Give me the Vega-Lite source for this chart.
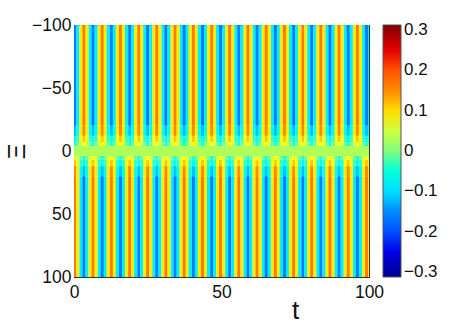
{"$schema":"https://vega.github.io/schema/vega-lite/v6.json","width":295,"height":252,"autosize":"none","padding":{"left":74,"top":25,"right":90,"bottom":47},"background":"white","config":{"view":{"stroke":"#333333","strokeWidth":1},"font":"Liberation Sans"},"resolve":{"axis":{"x":"independent","y":"independent"}},"layer":[{"data":{"values":[
{"t":0.3,"y":-100,"v":-0.16},{"t":1.3,"y":-100,"v":-0.09},{"t":2.4,"y":-100,"v":0.09},{"t":3.4,"y":-100,"v":0.16},{"t":4.4,"y":-100,"v":0.09},{"t":5.5,"y":-100,"v":-0.09},
{"t":6.5,"y":-100,"v":-0.16},{"t":7.5,"y":-100,"v":-0.09},{"t":8.6,"y":-100,"v":0.09},{"t":9.6,"y":-100,"v":0.16},{"t":10.6,"y":-100,"v":0.09},{"t":11.6,"y":-100,"v":-0.09},
{"t":12.7,"y":-100,"v":-0.16},{"t":13.7,"y":-100,"v":-0.09},{"t":14.7,"y":-100,"v":0.09},{"t":15.8,"y":-100,"v":0.16},{"t":16.8,"y":-100,"v":0.09},{"t":17.8,"y":-100,"v":-0.09},
{"t":18.9,"y":-100,"v":-0.16},{"t":19.9,"y":-100,"v":-0.09},{"t":20.9,"y":-100,"v":0.09},{"t":22,"y":-100,"v":0.16},{"t":23,"y":-100,"v":0.09},{"t":24,"y":-100,"v":-0.09},
{"t":25,"y":-100,"v":-0.16},{"t":26.1,"y":-100,"v":-0.09},{"t":27.1,"y":-100,"v":0.09},{"t":28.1,"y":-100,"v":0.16},{"t":29.1,"y":-100,"v":0.09},{"t":30.2,"y":-100,"v":-0.09},
{"t":31.2,"y":-100,"v":-0.16},{"t":32.2,"y":-100,"v":-0.09},{"t":33.3,"y":-100,"v":0.09},{"t":34.3,"y":-100,"v":0.16},{"t":35.3,"y":-100,"v":0.09},{"t":36.4,"y":-100,"v":-0.09},
{"t":37.4,"y":-100,"v":-0.16},{"t":38.4,"y":-100,"v":-0.09},{"t":39.4,"y":-100,"v":0.09},{"t":40.5,"y":-100,"v":0.16},{"t":41.5,"y":-100,"v":0.09},{"t":42.5,"y":-100,"v":-0.09},
{"t":43.6,"y":-100,"v":-0.16},{"t":44.6,"y":-100,"v":-0.09},{"t":45.6,"y":-100,"v":0.09},{"t":46.7,"y":-100,"v":0.16},{"t":47.7,"y":-100,"v":0.09},{"t":48.7,"y":-100,"v":-0.09},
{"t":49.7,"y":-100,"v":-0.16},{"t":50.8,"y":-100,"v":-0.09},{"t":51.8,"y":-100,"v":0.09},{"t":52.8,"y":-100,"v":0.16},{"t":53.9,"y":-100,"v":0.09},{"t":54.9,"y":-100,"v":-0.09},
{"t":55.9,"y":-100,"v":-0.16},{"t":57,"y":-100,"v":-0.09},{"t":58,"y":-100,"v":0.09},{"t":59,"y":-100,"v":0.16},{"t":60,"y":-100,"v":0.09},{"t":61.1,"y":-100,"v":-0.09},
{"t":62.1,"y":-100,"v":-0.16},{"t":63.1,"y":-100,"v":-0.09},{"t":64.2,"y":-100,"v":0.09},{"t":65.2,"y":-100,"v":0.16},{"t":66.2,"y":-100,"v":0.09},{"t":67.3,"y":-100,"v":-0.09},
{"t":68.3,"y":-100,"v":-0.16},{"t":69.3,"y":-100,"v":-0.09},{"t":70.3,"y":-100,"v":0.09},{"t":71.4,"y":-100,"v":0.16},{"t":72.4,"y":-100,"v":0.09},{"t":73.4,"y":-100,"v":-0.09},
{"t":74.5,"y":-100,"v":-0.16},{"t":75.5,"y":-100,"v":-0.09},{"t":76.5,"y":-100,"v":0.09},{"t":77.6,"y":-100,"v":0.16},{"t":78.6,"y":-100,"v":0.09},{"t":79.6,"y":-100,"v":-0.09},
{"t":80.6,"y":-100,"v":-0.16},{"t":81.7,"y":-100,"v":-0.09},{"t":82.7,"y":-100,"v":0.09},{"t":83.7,"y":-100,"v":0.16},{"t":84.8,"y":-100,"v":0.09},{"t":85.8,"y":-100,"v":-0.09},
{"t":86.8,"y":-100,"v":-0.16},{"t":87.9,"y":-100,"v":-0.09},{"t":88.9,"y":-100,"v":0.09},{"t":89.9,"y":-100,"v":0.16},{"t":90.9,"y":-100,"v":0.09},{"t":92,"y":-100,"v":-0.09},
{"t":93,"y":-100,"v":-0.16},{"t":94,"y":-100,"v":-0.09},{"t":95.1,"y":-100,"v":0.09},{"t":96.1,"y":-100,"v":0.16},{"t":97.1,"y":-100,"v":0.09},{"t":98.2,"y":-100,"v":-0.09},
{"t":99.2,"y":-100,"v":-0.16},{"t":100.2,"y":-100,"v":-0.09},
{"t":0.3,"y":-20,"v":-0.12},{"t":1.3,"y":-20,"v":-0.06},{"t":2.4,"y":-20,"v":0.09},{"t":3.4,"y":-20,"v":0.15},{"t":4.4,"y":-20,"v":0.09},{"t":5.5,"y":-20,"v":-0.06},
{"t":6.5,"y":-20,"v":-0.12},{"t":7.5,"y":-20,"v":-0.06},{"t":8.6,"y":-20,"v":0.09},{"t":9.6,"y":-20,"v":0.15},{"t":10.6,"y":-20,"v":0.09},{"t":11.6,"y":-20,"v":-0.06},
{"t":12.7,"y":-20,"v":-0.12},{"t":13.7,"y":-20,"v":-0.06},{"t":14.7,"y":-20,"v":0.09},{"t":15.8,"y":-20,"v":0.15},{"t":16.8,"y":-20,"v":0.09},{"t":17.8,"y":-20,"v":-0.06},
{"t":18.9,"y":-20,"v":-0.12},{"t":19.9,"y":-20,"v":-0.06},{"t":20.9,"y":-20,"v":0.09},{"t":22,"y":-20,"v":0.15},{"t":23,"y":-20,"v":0.09},{"t":24,"y":-20,"v":-0.06},
{"t":25,"y":-20,"v":-0.12},{"t":26.1,"y":-20,"v":-0.06},{"t":27.1,"y":-20,"v":0.09},{"t":28.1,"y":-20,"v":0.15},{"t":29.1,"y":-20,"v":0.09},{"t":30.2,"y":-20,"v":-0.06},
{"t":31.2,"y":-20,"v":-0.12},{"t":32.2,"y":-20,"v":-0.06},{"t":33.3,"y":-20,"v":0.09},{"t":34.3,"y":-20,"v":0.15},{"t":35.3,"y":-20,"v":0.09},{"t":36.4,"y":-20,"v":-0.06},
{"t":37.4,"y":-20,"v":-0.12},{"t":38.4,"y":-20,"v":-0.06},{"t":39.4,"y":-20,"v":0.09},{"t":40.5,"y":-20,"v":0.15},{"t":41.5,"y":-20,"v":0.09},{"t":42.5,"y":-20,"v":-0.06},
{"t":43.6,"y":-20,"v":-0.12},{"t":44.6,"y":-20,"v":-0.06},{"t":45.6,"y":-20,"v":0.09},{"t":46.7,"y":-20,"v":0.15},{"t":47.7,"y":-20,"v":0.09},{"t":48.7,"y":-20,"v":-0.06},
{"t":49.7,"y":-20,"v":-0.12},{"t":50.8,"y":-20,"v":-0.06},{"t":51.8,"y":-20,"v":0.09},{"t":52.8,"y":-20,"v":0.15},{"t":53.9,"y":-20,"v":0.09},{"t":54.9,"y":-20,"v":-0.06},
{"t":55.9,"y":-20,"v":-0.12},{"t":57,"y":-20,"v":-0.06},{"t":58,"y":-20,"v":0.09},{"t":59,"y":-20,"v":0.15},{"t":60,"y":-20,"v":0.09},{"t":61.1,"y":-20,"v":-0.06},
{"t":62.1,"y":-20,"v":-0.12},{"t":63.1,"y":-20,"v":-0.06},{"t":64.2,"y":-20,"v":0.09},{"t":65.2,"y":-20,"v":0.15},{"t":66.2,"y":-20,"v":0.09},{"t":67.3,"y":-20,"v":-0.06},
{"t":68.3,"y":-20,"v":-0.12},{"t":69.3,"y":-20,"v":-0.06},{"t":70.3,"y":-20,"v":0.09},{"t":71.4,"y":-20,"v":0.15},{"t":72.4,"y":-20,"v":0.09},{"t":73.4,"y":-20,"v":-0.06},
{"t":74.5,"y":-20,"v":-0.12},{"t":75.5,"y":-20,"v":-0.06},{"t":76.5,"y":-20,"v":0.09},{"t":77.6,"y":-20,"v":0.15},{"t":78.6,"y":-20,"v":0.09},{"t":79.6,"y":-20,"v":-0.06},
{"t":80.6,"y":-20,"v":-0.12},{"t":81.7,"y":-20,"v":-0.06},{"t":82.7,"y":-20,"v":0.09},{"t":83.7,"y":-20,"v":0.15},{"t":84.8,"y":-20,"v":0.09},{"t":85.8,"y":-20,"v":-0.06},
{"t":86.8,"y":-20,"v":-0.12},{"t":87.9,"y":-20,"v":-0.06},{"t":88.9,"y":-20,"v":0.09},{"t":89.9,"y":-20,"v":0.15},{"t":90.9,"y":-20,"v":0.09},{"t":92,"y":-20,"v":-0.06},
{"t":93,"y":-20,"v":-0.12},{"t":94,"y":-20,"v":-0.06},{"t":95.1,"y":-20,"v":0.09},{"t":96.1,"y":-20,"v":0.15},{"t":97.1,"y":-20,"v":0.09},{"t":98.2,"y":-20,"v":-0.06},
{"t":99.2,"y":-20,"v":-0.12},{"t":100.2,"y":-20,"v":-0.06},
{"t":0.3,"y":-12,"v":-0.08},{"t":1.3,"y":-12,"v":-0.03},{"t":2.4,"y":-12,"v":0.07},{"t":3.4,"y":-12,"v":0.11},{"t":4.4,"y":-12,"v":0.07},{"t":5.5,"y":-12,"v":-0.03},
{"t":6.5,"y":-12,"v":-0.08},{"t":7.5,"y":-12,"v":-0.03},{"t":8.6,"y":-12,"v":0.07},{"t":9.6,"y":-12,"v":0.11},{"t":10.6,"y":-12,"v":0.07},{"t":11.6,"y":-12,"v":-0.03},
{"t":12.7,"y":-12,"v":-0.08},{"t":13.7,"y":-12,"v":-0.03},{"t":14.7,"y":-12,"v":0.07},{"t":15.8,"y":-12,"v":0.11},{"t":16.8,"y":-12,"v":0.07},{"t":17.8,"y":-12,"v":-0.03},
{"t":18.9,"y":-12,"v":-0.08},{"t":19.9,"y":-12,"v":-0.03},{"t":20.9,"y":-12,"v":0.07},{"t":22,"y":-12,"v":0.11},{"t":23,"y":-12,"v":0.07},{"t":24,"y":-12,"v":-0.03},
{"t":25,"y":-12,"v":-0.08},{"t":26.1,"y":-12,"v":-0.03},{"t":27.1,"y":-12,"v":0.07},{"t":28.1,"y":-12,"v":0.11},{"t":29.1,"y":-12,"v":0.07},{"t":30.2,"y":-12,"v":-0.03},
{"t":31.2,"y":-12,"v":-0.08},{"t":32.2,"y":-12,"v":-0.03},{"t":33.3,"y":-12,"v":0.07},{"t":34.3,"y":-12,"v":0.11},{"t":35.3,"y":-12,"v":0.07},{"t":36.4,"y":-12,"v":-0.03},
{"t":37.4,"y":-12,"v":-0.08},{"t":38.4,"y":-12,"v":-0.03},{"t":39.4,"y":-12,"v":0.07},{"t":40.5,"y":-12,"v":0.11},{"t":41.5,"y":-12,"v":0.07},{"t":42.5,"y":-12,"v":-0.03},
{"t":43.6,"y":-12,"v":-0.08},{"t":44.6,"y":-12,"v":-0.03},{"t":45.6,"y":-12,"v":0.07},{"t":46.7,"y":-12,"v":0.11},{"t":47.7,"y":-12,"v":0.07},{"t":48.7,"y":-12,"v":-0.03},
{"t":49.7,"y":-12,"v":-0.08},{"t":50.8,"y":-12,"v":-0.03},{"t":51.8,"y":-12,"v":0.07},{"t":52.8,"y":-12,"v":0.11},{"t":53.9,"y":-12,"v":0.07},{"t":54.9,"y":-12,"v":-0.03},
{"t":55.9,"y":-12,"v":-0.08},{"t":57,"y":-12,"v":-0.03},{"t":58,"y":-12,"v":0.07},{"t":59,"y":-12,"v":0.11},{"t":60,"y":-12,"v":0.07},{"t":61.1,"y":-12,"v":-0.03},
{"t":62.1,"y":-12,"v":-0.08},{"t":63.1,"y":-12,"v":-0.03},{"t":64.2,"y":-12,"v":0.07},{"t":65.2,"y":-12,"v":0.11},{"t":66.2,"y":-12,"v":0.07},{"t":67.3,"y":-12,"v":-0.03},
{"t":68.3,"y":-12,"v":-0.08},{"t":69.3,"y":-12,"v":-0.03},{"t":70.3,"y":-12,"v":0.07},{"t":71.4,"y":-12,"v":0.11},{"t":72.4,"y":-12,"v":0.07},{"t":73.4,"y":-12,"v":-0.03},
{"t":74.5,"y":-12,"v":-0.08},{"t":75.5,"y":-12,"v":-0.03},{"t":76.5,"y":-12,"v":0.07},{"t":77.6,"y":-12,"v":0.11},{"t":78.6,"y":-12,"v":0.07},{"t":79.6,"y":-12,"v":-0.03},
{"t":80.6,"y":-12,"v":-0.08},{"t":81.7,"y":-12,"v":-0.03},{"t":82.7,"y":-12,"v":0.07},{"t":83.7,"y":-12,"v":0.11},{"t":84.8,"y":-12,"v":0.07},{"t":85.8,"y":-12,"v":-0.03},
{"t":86.8,"y":-12,"v":-0.08},{"t":87.9,"y":-12,"v":-0.03},{"t":88.9,"y":-12,"v":0.07},{"t":89.9,"y":-12,"v":0.11},{"t":90.9,"y":-12,"v":0.07},{"t":92,"y":-12,"v":-0.03},
{"t":93,"y":-12,"v":-0.08},{"t":94,"y":-12,"v":-0.03},{"t":95.1,"y":-12,"v":0.07},{"t":96.1,"y":-12,"v":0.11},{"t":97.1,"y":-12,"v":0.07},{"t":98.2,"y":-12,"v":-0.03},
{"t":99.2,"y":-12,"v":-0.08},{"t":100.2,"y":-12,"v":-0.03},
{"t":0.3,"y":-7,"v":-0.04},{"t":1.3,"y":-7,"v":-0.01},{"t":2.4,"y":-7,"v":0.05},{"t":3.4,"y":-7,"v":0.08},{"t":4.4,"y":-7,"v":0.05},{"t":5.5,"y":-7,"v":-0.01},
{"t":6.5,"y":-7,"v":-0.04},{"t":7.5,"y":-7,"v":-0.01},{"t":8.6,"y":-7,"v":0.05},{"t":9.6,"y":-7,"v":0.08},{"t":10.6,"y":-7,"v":0.05},{"t":11.6,"y":-7,"v":-0.01},
{"t":12.7,"y":-7,"v":-0.04},{"t":13.7,"y":-7,"v":-0.01},{"t":14.7,"y":-7,"v":0.05},{"t":15.8,"y":-7,"v":0.08},{"t":16.8,"y":-7,"v":0.05},{"t":17.8,"y":-7,"v":-0.01},
{"t":18.9,"y":-7,"v":-0.04},{"t":19.9,"y":-7,"v":-0.01},{"t":20.9,"y":-7,"v":0.05},{"t":22,"y":-7,"v":0.08},{"t":23,"y":-7,"v":0.05},{"t":24,"y":-7,"v":-0.01},
{"t":25,"y":-7,"v":-0.04},{"t":26.1,"y":-7,"v":-0.01},{"t":27.1,"y":-7,"v":0.05},{"t":28.1,"y":-7,"v":0.08},{"t":29.1,"y":-7,"v":0.05},{"t":30.2,"y":-7,"v":-0.01},
{"t":31.2,"y":-7,"v":-0.04},{"t":32.2,"y":-7,"v":-0.01},{"t":33.3,"y":-7,"v":0.05},{"t":34.3,"y":-7,"v":0.08},{"t":35.3,"y":-7,"v":0.05},{"t":36.4,"y":-7,"v":-0.01},
{"t":37.4,"y":-7,"v":-0.04},{"t":38.4,"y":-7,"v":-0.01},{"t":39.4,"y":-7,"v":0.05},{"t":40.5,"y":-7,"v":0.08},{"t":41.5,"y":-7,"v":0.05},{"t":42.5,"y":-7,"v":-0.01},
{"t":43.6,"y":-7,"v":-0.04},{"t":44.6,"y":-7,"v":-0.01},{"t":45.6,"y":-7,"v":0.05},{"t":46.7,"y":-7,"v":0.08},{"t":47.7,"y":-7,"v":0.05},{"t":48.7,"y":-7,"v":-0.01},
{"t":49.7,"y":-7,"v":-0.04},{"t":50.8,"y":-7,"v":-0.01},{"t":51.8,"y":-7,"v":0.05},{"t":52.8,"y":-7,"v":0.08},{"t":53.9,"y":-7,"v":0.05},{"t":54.9,"y":-7,"v":-0.01},
{"t":55.9,"y":-7,"v":-0.04},{"t":57,"y":-7,"v":-0.01},{"t":58,"y":-7,"v":0.05},{"t":59,"y":-7,"v":0.08},{"t":60,"y":-7,"v":0.05},{"t":61.1,"y":-7,"v":-0.01},
{"t":62.1,"y":-7,"v":-0.04},{"t":63.1,"y":-7,"v":-0.01},{"t":64.2,"y":-7,"v":0.05},{"t":65.2,"y":-7,"v":0.08},{"t":66.2,"y":-7,"v":0.05},{"t":67.3,"y":-7,"v":-0.01},
{"t":68.3,"y":-7,"v":-0.04},{"t":69.3,"y":-7,"v":-0.01},{"t":70.3,"y":-7,"v":0.05},{"t":71.4,"y":-7,"v":0.08},{"t":72.4,"y":-7,"v":0.05},{"t":73.4,"y":-7,"v":-0.01},
{"t":74.5,"y":-7,"v":-0.04},{"t":75.5,"y":-7,"v":-0.01},{"t":76.5,"y":-7,"v":0.05},{"t":77.6,"y":-7,"v":0.08},{"t":78.6,"y":-7,"v":0.05},{"t":79.6,"y":-7,"v":-0.01},
{"t":80.6,"y":-7,"v":-0.04},{"t":81.7,"y":-7,"v":-0.01},{"t":82.7,"y":-7,"v":0.05},{"t":83.7,"y":-7,"v":0.08},{"t":84.8,"y":-7,"v":0.05},{"t":85.8,"y":-7,"v":-0.01},
{"t":86.8,"y":-7,"v":-0.04},{"t":87.9,"y":-7,"v":-0.01},{"t":88.9,"y":-7,"v":0.05},{"t":89.9,"y":-7,"v":0.08},{"t":90.9,"y":-7,"v":0.05},{"t":92,"y":-7,"v":-0.01},
{"t":93,"y":-7,"v":-0.04},{"t":94,"y":-7,"v":-0.01},{"t":95.1,"y":-7,"v":0.05},{"t":96.1,"y":-7,"v":0.08},{"t":97.1,"y":-7,"v":0.05},{"t":98.2,"y":-7,"v":-0.01},
{"t":99.2,"y":-7,"v":-0.04},{"t":100.2,"y":-7,"v":-0.01},
{"t":0.3,"y":4,"v":0.08},{"t":1.3,"y":4,"v":0.05},{"t":2.4,"y":4,"v":-0.01},{"t":3.4,"y":4,"v":-0.04},{"t":4.4,"y":4,"v":-0.01},{"t":5.5,"y":4,"v":0.05},
{"t":6.5,"y":4,"v":0.08},{"t":7.5,"y":4,"v":0.05},{"t":8.6,"y":4,"v":-0.01},{"t":9.6,"y":4,"v":-0.04},{"t":10.6,"y":4,"v":-0.01},{"t":11.6,"y":4,"v":0.05},
{"t":12.7,"y":4,"v":0.08},{"t":13.7,"y":4,"v":0.05},{"t":14.7,"y":4,"v":-0.01},{"t":15.8,"y":4,"v":-0.04},{"t":16.8,"y":4,"v":-0.01},{"t":17.8,"y":4,"v":0.05},
{"t":18.9,"y":4,"v":0.08},{"t":19.9,"y":4,"v":0.05},{"t":20.9,"y":4,"v":-0.01},{"t":22,"y":4,"v":-0.04},{"t":23,"y":4,"v":-0.01},{"t":24,"y":4,"v":0.05},
{"t":25,"y":4,"v":0.08},{"t":26.1,"y":4,"v":0.05},{"t":27.1,"y":4,"v":-0.01},{"t":28.1,"y":4,"v":-0.04},{"t":29.1,"y":4,"v":-0.01},{"t":30.2,"y":4,"v":0.05},
{"t":31.2,"y":4,"v":0.08},{"t":32.2,"y":4,"v":0.05},{"t":33.3,"y":4,"v":-0.01},{"t":34.3,"y":4,"v":-0.04},{"t":35.3,"y":4,"v":-0.01},{"t":36.4,"y":4,"v":0.05},
{"t":37.4,"y":4,"v":0.08},{"t":38.4,"y":4,"v":0.05},{"t":39.4,"y":4,"v":-0.01},{"t":40.5,"y":4,"v":-0.04},{"t":41.5,"y":4,"v":-0.01},{"t":42.5,"y":4,"v":0.05},
{"t":43.6,"y":4,"v":0.08},{"t":44.6,"y":4,"v":0.05},{"t":45.6,"y":4,"v":-0.01},{"t":46.7,"y":4,"v":-0.04},{"t":47.7,"y":4,"v":-0.01},{"t":48.7,"y":4,"v":0.05},
{"t":49.7,"y":4,"v":0.08},{"t":50.8,"y":4,"v":0.05},{"t":51.8,"y":4,"v":-0.01},{"t":52.8,"y":4,"v":-0.04},{"t":53.9,"y":4,"v":-0.01},{"t":54.9,"y":4,"v":0.05},
{"t":55.9,"y":4,"v":0.08},{"t":57,"y":4,"v":0.05},{"t":58,"y":4,"v":-0.01},{"t":59,"y":4,"v":-0.04},{"t":60,"y":4,"v":-0.01},{"t":61.1,"y":4,"v":0.05},
{"t":62.1,"y":4,"v":0.08},{"t":63.1,"y":4,"v":0.05},{"t":64.2,"y":4,"v":-0.01},{"t":65.2,"y":4,"v":-0.04},{"t":66.2,"y":4,"v":-0.01},{"t":67.3,"y":4,"v":0.05},
{"t":68.3,"y":4,"v":0.08},{"t":69.3,"y":4,"v":0.05},{"t":70.3,"y":4,"v":-0.01},{"t":71.4,"y":4,"v":-0.04},{"t":72.4,"y":4,"v":-0.01},{"t":73.4,"y":4,"v":0.05},
{"t":74.5,"y":4,"v":0.08},{"t":75.5,"y":4,"v":0.05},{"t":76.5,"y":4,"v":-0.01},{"t":77.6,"y":4,"v":-0.04},{"t":78.6,"y":4,"v":-0.01},{"t":79.6,"y":4,"v":0.05},
{"t":80.6,"y":4,"v":0.08},{"t":81.7,"y":4,"v":0.05},{"t":82.7,"y":4,"v":-0.01},{"t":83.7,"y":4,"v":-0.04},{"t":84.8,"y":4,"v":-0.01},{"t":85.8,"y":4,"v":0.05},
{"t":86.8,"y":4,"v":0.08},{"t":87.9,"y":4,"v":0.05},{"t":88.9,"y":4,"v":-0.01},{"t":89.9,"y":4,"v":-0.04},{"t":90.9,"y":4,"v":-0.01},{"t":92,"y":4,"v":0.05},
{"t":93,"y":4,"v":0.08},{"t":94,"y":4,"v":0.05},{"t":95.1,"y":4,"v":-0.01},{"t":96.1,"y":4,"v":-0.04},{"t":97.1,"y":4,"v":-0.01},{"t":98.2,"y":4,"v":0.05},
{"t":99.2,"y":4,"v":0.08},{"t":100.2,"y":4,"v":0.05},
{"t":0.3,"y":7,"v":0.11},{"t":1.3,"y":7,"v":0.07},{"t":2.4,"y":7,"v":-0.03},{"t":3.4,"y":7,"v":-0.08},{"t":4.4,"y":7,"v":-0.03},{"t":5.5,"y":7,"v":0.07},
{"t":6.5,"y":7,"v":0.11},{"t":7.5,"y":7,"v":0.07},{"t":8.6,"y":7,"v":-0.03},{"t":9.6,"y":7,"v":-0.08},{"t":10.6,"y":7,"v":-0.03},{"t":11.6,"y":7,"v":0.07},
{"t":12.7,"y":7,"v":0.11},{"t":13.7,"y":7,"v":0.07},{"t":14.7,"y":7,"v":-0.03},{"t":15.8,"y":7,"v":-0.08},{"t":16.8,"y":7,"v":-0.03},{"t":17.8,"y":7,"v":0.07},
{"t":18.9,"y":7,"v":0.11},{"t":19.9,"y":7,"v":0.07},{"t":20.9,"y":7,"v":-0.03},{"t":22,"y":7,"v":-0.08},{"t":23,"y":7,"v":-0.03},{"t":24,"y":7,"v":0.07},
{"t":25,"y":7,"v":0.11},{"t":26.1,"y":7,"v":0.07},{"t":27.1,"y":7,"v":-0.03},{"t":28.1,"y":7,"v":-0.08},{"t":29.1,"y":7,"v":-0.03},{"t":30.2,"y":7,"v":0.07},
{"t":31.2,"y":7,"v":0.11},{"t":32.2,"y":7,"v":0.07},{"t":33.3,"y":7,"v":-0.03},{"t":34.3,"y":7,"v":-0.08},{"t":35.3,"y":7,"v":-0.03},{"t":36.4,"y":7,"v":0.07},
{"t":37.4,"y":7,"v":0.11},{"t":38.4,"y":7,"v":0.07},{"t":39.4,"y":7,"v":-0.03},{"t":40.5,"y":7,"v":-0.08},{"t":41.5,"y":7,"v":-0.03},{"t":42.5,"y":7,"v":0.07},
{"t":43.6,"y":7,"v":0.11},{"t":44.6,"y":7,"v":0.07},{"t":45.6,"y":7,"v":-0.03},{"t":46.7,"y":7,"v":-0.08},{"t":47.7,"y":7,"v":-0.03},{"t":48.7,"y":7,"v":0.07},
{"t":49.7,"y":7,"v":0.11},{"t":50.8,"y":7,"v":0.07},{"t":51.8,"y":7,"v":-0.03},{"t":52.8,"y":7,"v":-0.08},{"t":53.9,"y":7,"v":-0.03},{"t":54.9,"y":7,"v":0.07},
{"t":55.9,"y":7,"v":0.11},{"t":57,"y":7,"v":0.07},{"t":58,"y":7,"v":-0.03},{"t":59,"y":7,"v":-0.08},{"t":60,"y":7,"v":-0.03},{"t":61.1,"y":7,"v":0.07},
{"t":62.1,"y":7,"v":0.11},{"t":63.1,"y":7,"v":0.07},{"t":64.2,"y":7,"v":-0.03},{"t":65.2,"y":7,"v":-0.08},{"t":66.2,"y":7,"v":-0.03},{"t":67.3,"y":7,"v":0.07},
{"t":68.3,"y":7,"v":0.11},{"t":69.3,"y":7,"v":0.07},{"t":70.3,"y":7,"v":-0.03},{"t":71.4,"y":7,"v":-0.08},{"t":72.4,"y":7,"v":-0.03},{"t":73.4,"y":7,"v":0.07},
{"t":74.5,"y":7,"v":0.11},{"t":75.5,"y":7,"v":0.07},{"t":76.5,"y":7,"v":-0.03},{"t":77.6,"y":7,"v":-0.08},{"t":78.6,"y":7,"v":-0.03},{"t":79.6,"y":7,"v":0.07},
{"t":80.6,"y":7,"v":0.11},{"t":81.7,"y":7,"v":0.07},{"t":82.7,"y":7,"v":-0.03},{"t":83.7,"y":7,"v":-0.08},{"t":84.8,"y":7,"v":-0.03},{"t":85.8,"y":7,"v":0.07},
{"t":86.8,"y":7,"v":0.11},{"t":87.9,"y":7,"v":0.07},{"t":88.9,"y":7,"v":-0.03},{"t":89.9,"y":7,"v":-0.08},{"t":90.9,"y":7,"v":-0.03},{"t":92,"y":7,"v":0.07},
{"t":93,"y":7,"v":0.11},{"t":94,"y":7,"v":0.07},{"t":95.1,"y":7,"v":-0.03},{"t":96.1,"y":7,"v":-0.08},{"t":97.1,"y":7,"v":-0.03},{"t":98.2,"y":7,"v":0.07},
{"t":99.2,"y":7,"v":0.11},{"t":100.2,"y":7,"v":0.07},
{"t":0.3,"y":12,"v":0.15},{"t":1.3,"y":12,"v":0.09},{"t":2.4,"y":12,"v":-0.06},{"t":3.4,"y":12,"v":-0.12},{"t":4.4,"y":12,"v":-0.06},{"t":5.5,"y":12,"v":0.09},
{"t":6.5,"y":12,"v":0.15},{"t":7.5,"y":12,"v":0.09},{"t":8.6,"y":12,"v":-0.06},{"t":9.6,"y":12,"v":-0.12},{"t":10.6,"y":12,"v":-0.06},{"t":11.6,"y":12,"v":0.09},
{"t":12.7,"y":12,"v":0.15},{"t":13.7,"y":12,"v":0.09},{"t":14.7,"y":12,"v":-0.06},{"t":15.8,"y":12,"v":-0.12},{"t":16.8,"y":12,"v":-0.06},{"t":17.8,"y":12,"v":0.09},
{"t":18.9,"y":12,"v":0.15},{"t":19.9,"y":12,"v":0.09},{"t":20.9,"y":12,"v":-0.06},{"t":22,"y":12,"v":-0.12},{"t":23,"y":12,"v":-0.06},{"t":24,"y":12,"v":0.09},
{"t":25,"y":12,"v":0.15},{"t":26.1,"y":12,"v":0.09},{"t":27.1,"y":12,"v":-0.06},{"t":28.1,"y":12,"v":-0.12},{"t":29.1,"y":12,"v":-0.06},{"t":30.2,"y":12,"v":0.09},
{"t":31.2,"y":12,"v":0.15},{"t":32.2,"y":12,"v":0.09},{"t":33.3,"y":12,"v":-0.06},{"t":34.3,"y":12,"v":-0.12},{"t":35.3,"y":12,"v":-0.06},{"t":36.4,"y":12,"v":0.09},
{"t":37.4,"y":12,"v":0.15},{"t":38.4,"y":12,"v":0.09},{"t":39.4,"y":12,"v":-0.06},{"t":40.5,"y":12,"v":-0.12},{"t":41.5,"y":12,"v":-0.06},{"t":42.5,"y":12,"v":0.09},
{"t":43.6,"y":12,"v":0.15},{"t":44.6,"y":12,"v":0.09},{"t":45.6,"y":12,"v":-0.06},{"t":46.7,"y":12,"v":-0.12},{"t":47.7,"y":12,"v":-0.06},{"t":48.7,"y":12,"v":0.09},
{"t":49.7,"y":12,"v":0.15},{"t":50.8,"y":12,"v":0.09},{"t":51.8,"y":12,"v":-0.06},{"t":52.8,"y":12,"v":-0.12},{"t":53.9,"y":12,"v":-0.06},{"t":54.9,"y":12,"v":0.09},
{"t":55.9,"y":12,"v":0.15},{"t":57,"y":12,"v":0.09},{"t":58,"y":12,"v":-0.06},{"t":59,"y":12,"v":-0.12},{"t":60,"y":12,"v":-0.06},{"t":61.1,"y":12,"v":0.09},
{"t":62.1,"y":12,"v":0.15},{"t":63.1,"y":12,"v":0.09},{"t":64.2,"y":12,"v":-0.06},{"t":65.2,"y":12,"v":-0.12},{"t":66.2,"y":12,"v":-0.06},{"t":67.3,"y":12,"v":0.09},
{"t":68.3,"y":12,"v":0.15},{"t":69.3,"y":12,"v":0.09},{"t":70.3,"y":12,"v":-0.06},{"t":71.4,"y":12,"v":-0.12},{"t":72.4,"y":12,"v":-0.06},{"t":73.4,"y":12,"v":0.09},
{"t":74.5,"y":12,"v":0.15},{"t":75.5,"y":12,"v":0.09},{"t":76.5,"y":12,"v":-0.06},{"t":77.6,"y":12,"v":-0.12},{"t":78.6,"y":12,"v":-0.06},{"t":79.6,"y":12,"v":0.09},
{"t":80.6,"y":12,"v":0.15},{"t":81.7,"y":12,"v":0.09},{"t":82.7,"y":12,"v":-0.06},{"t":83.7,"y":12,"v":-0.12},{"t":84.8,"y":12,"v":-0.06},{"t":85.8,"y":12,"v":0.09},
{"t":86.8,"y":12,"v":0.15},{"t":87.9,"y":12,"v":0.09},{"t":88.9,"y":12,"v":-0.06},{"t":89.9,"y":12,"v":-0.12},{"t":90.9,"y":12,"v":-0.06},{"t":92,"y":12,"v":0.09},
{"t":93,"y":12,"v":0.15},{"t":94,"y":12,"v":0.09},{"t":95.1,"y":12,"v":-0.06},{"t":96.1,"y":12,"v":-0.12},{"t":97.1,"y":12,"v":-0.06},{"t":98.2,"y":12,"v":0.09},
{"t":99.2,"y":12,"v":0.15},{"t":100.2,"y":12,"v":0.09},
{"t":0.3,"y":20,"v":0.16},{"t":1.3,"y":20,"v":0.09},{"t":2.4,"y":20,"v":-0.09},{"t":3.4,"y":20,"v":-0.16},{"t":4.4,"y":20,"v":-0.09},{"t":5.5,"y":20,"v":0.09},
{"t":6.5,"y":20,"v":0.16},{"t":7.5,"y":20,"v":0.09},{"t":8.6,"y":20,"v":-0.09},{"t":9.6,"y":20,"v":-0.16},{"t":10.6,"y":20,"v":-0.09},{"t":11.6,"y":20,"v":0.09},
{"t":12.7,"y":20,"v":0.16},{"t":13.7,"y":20,"v":0.09},{"t":14.7,"y":20,"v":-0.09},{"t":15.8,"y":20,"v":-0.16},{"t":16.8,"y":20,"v":-0.09},{"t":17.8,"y":20,"v":0.09},
{"t":18.9,"y":20,"v":0.16},{"t":19.9,"y":20,"v":0.09},{"t":20.9,"y":20,"v":-0.09},{"t":22,"y":20,"v":-0.16},{"t":23,"y":20,"v":-0.09},{"t":24,"y":20,"v":0.09},
{"t":25,"y":20,"v":0.16},{"t":26.1,"y":20,"v":0.09},{"t":27.1,"y":20,"v":-0.09},{"t":28.1,"y":20,"v":-0.16},{"t":29.1,"y":20,"v":-0.09},{"t":30.2,"y":20,"v":0.09},
{"t":31.2,"y":20,"v":0.16},{"t":32.2,"y":20,"v":0.09},{"t":33.3,"y":20,"v":-0.09},{"t":34.3,"y":20,"v":-0.16},{"t":35.3,"y":20,"v":-0.09},{"t":36.4,"y":20,"v":0.09},
{"t":37.4,"y":20,"v":0.16},{"t":38.4,"y":20,"v":0.09},{"t":39.4,"y":20,"v":-0.09},{"t":40.5,"y":20,"v":-0.16},{"t":41.5,"y":20,"v":-0.09},{"t":42.5,"y":20,"v":0.09},
{"t":43.6,"y":20,"v":0.16},{"t":44.6,"y":20,"v":0.09},{"t":45.6,"y":20,"v":-0.09},{"t":46.7,"y":20,"v":-0.16},{"t":47.7,"y":20,"v":-0.09},{"t":48.7,"y":20,"v":0.09},
{"t":49.7,"y":20,"v":0.16},{"t":50.8,"y":20,"v":0.09},{"t":51.8,"y":20,"v":-0.09},{"t":52.8,"y":20,"v":-0.16},{"t":53.9,"y":20,"v":-0.09},{"t":54.9,"y":20,"v":0.09},
{"t":55.9,"y":20,"v":0.16},{"t":57,"y":20,"v":0.09},{"t":58,"y":20,"v":-0.09},{"t":59,"y":20,"v":-0.16},{"t":60,"y":20,"v":-0.09},{"t":61.1,"y":20,"v":0.09},
{"t":62.1,"y":20,"v":0.16},{"t":63.1,"y":20,"v":0.09},{"t":64.2,"y":20,"v":-0.09},{"t":65.2,"y":20,"v":-0.16},{"t":66.2,"y":20,"v":-0.09},{"t":67.3,"y":20,"v":0.09},
{"t":68.3,"y":20,"v":0.16},{"t":69.3,"y":20,"v":0.09},{"t":70.3,"y":20,"v":-0.09},{"t":71.4,"y":20,"v":-0.16},{"t":72.4,"y":20,"v":-0.09},{"t":73.4,"y":20,"v":0.09},
{"t":74.5,"y":20,"v":0.16},{"t":75.5,"y":20,"v":0.09},{"t":76.5,"y":20,"v":-0.09},{"t":77.6,"y":20,"v":-0.16},{"t":78.6,"y":20,"v":-0.09},{"t":79.6,"y":20,"v":0.09},
{"t":80.6,"y":20,"v":0.16},{"t":81.7,"y":20,"v":0.09},{"t":82.7,"y":20,"v":-0.09},{"t":83.7,"y":20,"v":-0.16},{"t":84.8,"y":20,"v":-0.09},{"t":85.8,"y":20,"v":0.09},
{"t":86.8,"y":20,"v":0.16},{"t":87.9,"y":20,"v":0.09},{"t":88.9,"y":20,"v":-0.09},{"t":89.9,"y":20,"v":-0.16},{"t":90.9,"y":20,"v":-0.09},{"t":92,"y":20,"v":0.09},
{"t":93,"y":20,"v":0.16},{"t":94,"y":20,"v":0.09},{"t":95.1,"y":20,"v":-0.09},{"t":96.1,"y":20,"v":-0.16},{"t":97.1,"y":20,"v":-0.09},{"t":98.2,"y":20,"v":0.09},
{"t":99.2,"y":20,"v":0.16},{"t":100.2,"y":20,"v":0.09}
]},"transform":[{"lookup":"y","from":{"data":{"values":[{"y":-100,"e":-20},{"y":-20,"e":-12},{"y":-12,"e":-7},{"y":-7,"e":-4},{"y":4,"e":7},{"y":7,"e":12},{"y":12,"e":20},{"y":20,"e":100}]},"key":"y","fields":["e"]}}],"mark":{"type":"rect","clip":true,"width":3.2},"encoding":{"x":{"field":"t","type":"quantitative","scale":{"domain":[0,100],"nice":false},"axis":{"values":[0,50,100],"grid":false,"tickSize":-3,"tickColor":"#222222","domainColor":"#333333","labelFontSize":17.5,"labelColor":"#111111","labelPadding":9,"labelFlush":false,"labelFont":"Liberation Sans","title":"t","titleFontSize":26,"titleFontWeight":"normal","titleColor":"#111111","titleFont":"Liberation Sans","titleX":221,"titleY":41,"titleBaseline":"alphabetic"}},"y":{"field":"y","type":"quantitative","scale":{"domain":[-100,100],"reverse":true,"nice":false},"axis":{"values":[-100,-50,0,50,100],"grid":false,"tickSize":-3,"tickColor":"#222222","domainColor":"#333333","labelFontSize":17.5,"labelColor":"#111111","labelPadding":6,"labelFlush":false,"labelFont":"Liberation Sans","format":"d","title":"Ξ","titleFontSize":24,"titleFontWeight":"normal","titleColor":"#111111","titleFont":"Liberation Sans","titleX":-50,"titleY":126,"titleBaseline":"alphabetic"}},"y2":{"field":"e"},"color":{"field":"v","type":"quantitative","scale":{"domain":[-0.312,-0.234,-0.156,-0.078,0,0.078,0.156,0.234,0.312],"range":["#00008f","#0000ff","#0080ff","#00ffff","#80ff80","#ffff00","#ff8000","#ff0000","#800000"]},"legend":{"orient":"none","legendX":309,"legendY":0,"title":null,"type":"gradient","gradientLength":252,"gradientThickness":18,"gradientStrokeColor":"#555555","gradientStrokeWidth":1,"values":[-0.3,-0.2,-0.1,0,0.1,0.2,0.3],"format":".1f","labelExpr":"datum.value==0?'0':datum.label","labelFontSize":17,"labelColor":"#111111","labelFont":"Liberation Sans","labelOffset":3}}}},{"data":{"values":[{"t":0,"t2":100,"y":-4,"e":4,"v":0.03}]},"mark":{"type":"rect","clip":true},"encoding":{"x":{"field":"t","type":"quantitative","axis":{"orient":"top","values":[0,50,100],"grid":false,"tickSize":-3,"tickColor":"#222222","domainColor":"#333333","labels":false,"title":null}},"x2":{"field":"t2"},"y":{"field":"y","type":"quantitative","axis":{"orient":"right","values":[-100,-50,0,50,100],"grid":false,"tickSize":-3,"tickColor":"#222222","domainColor":"#333333","labels":false,"title":null}},"y2":{"field":"e"},"color":{"field":"v","type":"quantitative"}}}]}
